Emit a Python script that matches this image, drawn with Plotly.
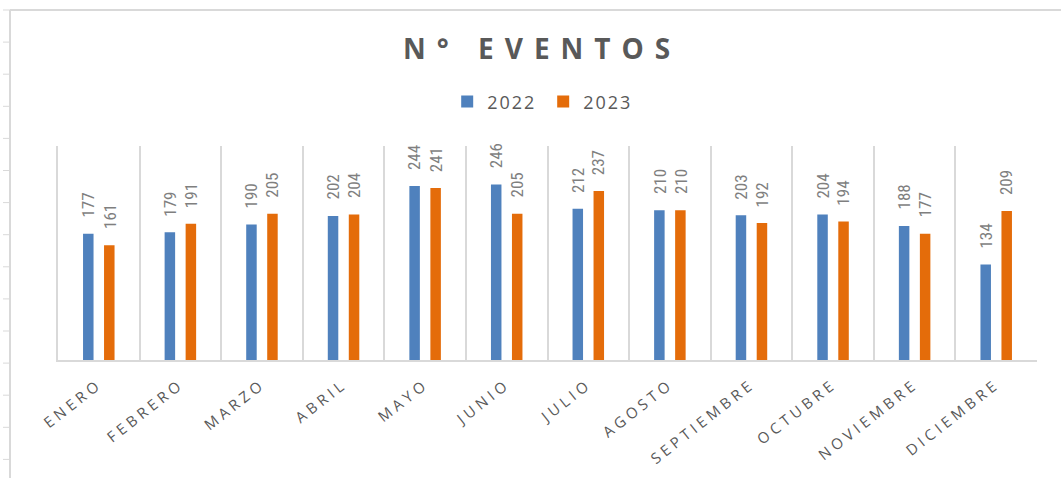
import plotly.graph_objects as go

months = ["ENERO", "FEBRERO", "MARZO", "ABRIL", "MAYO", "JUNIO", "JULIO",
          "AGOSTO", "SEPTIEMBRE", "OCTUBRE", "NOVIEMBRE", "DICIEMBRE"]
v2022 = [177, 179, 190, 202, 244, 246, 212, 210, 203, 204, 188, 134]
v2023 = [161, 191, 205, 204, 241, 205, 237, 210, 192, 194, 177, 209]

BLUE = "#4F81BD"
ORANGE = "#E46C0A"
GRID = "#D9D9D9"
TXT = "#595959"
LBL = "#7F7F7F"

fig = go.Figure()
series = [("2022", v2022, BLUE, -10.5), ("2023", v2023, ORANGE, 10.5)]
for name, vals, col, shift in series:
    fig.add_trace(go.Bar(
        x=months, y=vals, name=name, marker=dict(color=col, line=dict(width=0)),
    ))
    for m, v in zip(months, vals):
        fig.add_annotation(
            x=m, y=v, text=str(v), showarrow=False, textangle=-90,
            xanchor="center", yanchor="bottom", xshift=shift, yshift=14,
            font=dict(family="Liberation Sans Narrow, Roboto Condensed, Arial Narrow, sans-serif",
                      size=17, color=LBL),
        )

fig.update_layout(
    width=1061, height=478,
    margin=dict(l=58, r=24, t=146, b=118, autoexpand=False),
    paper_bgcolor="white", plot_bgcolor="white",
    barmode="group", bargap=0.485, bargroupgap=0.5,
    title=dict(text="<b>N° EVENTOS</b>", x=0.511, xanchor="center", y=0.897, yanchor="middle",
               font=dict(family="Open Sans, sans-serif", size=28, color=TXT)),
    legend=dict(orientation="h", x=0.4956, xanchor="center", y=1.206, yanchor="middle",
                font=dict(family="Open Sans, sans-serif", size=18, color=TXT),
                traceorder="normal", entrywidth=51, entrywidthmode="pixels"),
    showlegend=True,
    xaxis=dict(tickson="boundaries", showgrid=True, gridcolor=GRID, gridwidth=2,
               showline=True, linecolor=GRID, linewidth=2, ticks="", automargin=False,
               tickangle=-38, ticklabelstandoff=8,
               tickfont=dict(family="Open Sans, sans-serif", size=15, color=TXT)),
    yaxis=dict(range=[0, 300], showgrid=False, zeroline=False, showticklabels=False,
               ticks="", showline=True, linecolor=GRID, linewidth=2, automargin=False),
    font=dict(family="Open Sans, sans-serif", color=TXT),
)

# decorative outer frame (sheet border)
fx = -48 / 979
fig.add_shape(type="line", xref="paper", yref="paper", x0=fx, x1=fx,
              y0=-118 / 214, y1=350 / 214, line=dict(color=GRID, width=2))
fig.add_shape(type="line", xref="paper", yref="paper", x0=fx, x1=1.03,
              y0=350 / 214, y1=350 / 214, line=dict(color=GRID, width=2))
for k in range(15):
    ypx = 10 + k * 32.1
    yp = (360 - ypx) / 214
    fig.add_shape(type="line", xref="paper", yref="paper", x0=-55 / 979, x1=fx,
                  y0=yp, y1=yp, line=dict(color=GRID, width=1))

post = """
document.body.style.margin = '0';
document.body.style.padding = '0';
document.querySelectorAll('.gtitle').forEach(function(e){ e.style.letterSpacing = '11px'; });
document.querySelectorAll('.xtick text').forEach(function(e){ e.style.letterSpacing = '4px'; });
document.querySelectorAll('.legendtext').forEach(function(e){ e.style.letterSpacing = '2px'; });
"""
fig.write_html("out.html", post_script=post, config={"displayModeBar": False})
